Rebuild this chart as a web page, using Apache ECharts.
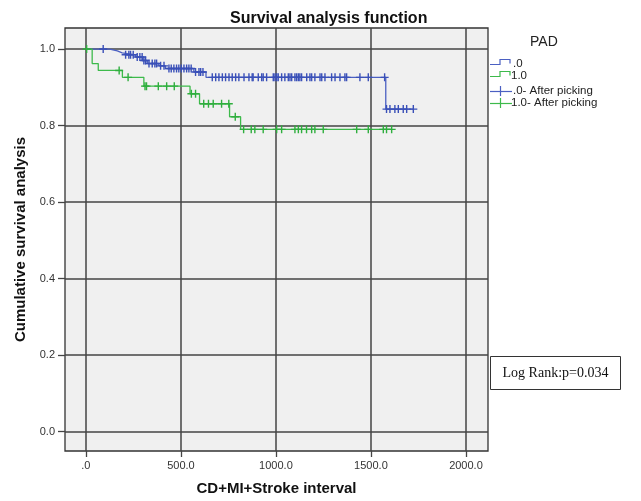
<!DOCTYPE html>
<html><head><meta charset="utf-8">
<script src="https://cdn.jsdelivr.net/npm/echarts@6/dist/echarts.min.js"></script>
<style>html,body{margin:0;padding:0;background:#fff}#c{width:641px;height:501px}</style>
</head><body><div id="c"></div>
<script>
// ---- data ----
const titleText = 'Survival analysis function';
const xName = 'CD+MI+Stroke interval';
const yName = 'Cumulative survival analysis';
const legendTitle = 'PAD';
const groupNames = ['.0', '1.0'];
const censorNames = ['.0- After picking', '1.0- After picking'];
const xTicks = [0, 500, 1000, 1500, 2000];
const yTicks = [0, 0.2, 0.4, 0.6, 0.8, 1.0];
const statText = 'Log Rank:p=0.034';

// group .0 : step times and survival levels
const blueStepT = [0, 126, 165, 191, 261, 297, 323, 384, 419, 568, 632, 1578, 1723];
const blueStepS = [1.0, 0.995, 0.990, 0.985, 0.979, 0.970, 0.962, 0.956, 0.949, 0.940, 0.926, 0.843, 0.843];
const blueCensorT = [91, 209, 226, 235, 249, 270, 284, 296, 305, 314, 332, 349, 363, 372, 393, 411,
  437, 449, 463, 477, 489, 502, 516, 530, 542, 554, 577, 595, 604, 616,
  665, 683, 700, 718, 735, 753, 770, 788, 805, 832, 858, 875, 880, 907, 925, 933, 951, 986, 995,
  1004, 1012, 1030, 1047, 1065, 1074, 1083, 1100, 1109, 1118, 1126, 1135, 1162, 1179, 1188, 1205,
  1232, 1241, 1258, 1293, 1311, 1337, 1363, 1372, 1442, 1486, 1572,
  1582, 1600, 1626, 1644, 1670, 1688, 1723];

// group 1.0
const greenStepT = [0, 33, 65, 192, 305, 548, 598, 756, 814, 1609];
const greenStepS = [1.0, 0.962, 0.944, 0.926, 0.903, 0.883, 0.857, 0.823, 0.790, 0.790];
const greenCensorT = [4, 175, 222, 311, 319, 381, 425, 465, 555, 577, 620, 645, 670, 714, 752, 786,
  830, 870, 889, 933, 1004, 1030, 1100, 1118, 1135, 1161, 1188, 1205, 1249, 1425, 1486, 1565, 1582, 1609];

// ---- build ----
const colors = ['#4B60C2', '#3DBA4B'];
const markColors = ['#3A50B8', '#2FAE3E'];
function stepPoints(T, S) { return T.map((t, i) => [t, S[i]]); }
function levelAt(T, S, t) {
  let s = S[0];
  for (let i = 0; i < T.length; i++) { if (T[i] <= t) s = S[i]; }
  return s;
}
function censorPoints(T, S, C) { return C.map(t => [t, levelAt(T, S, t)]); }
const crossPath = 'path://M0,3.3L3.3,3.3L3.3,0L4.7,0L4.7,3.3L8,3.3L8,4.7L4.7,4.7L4.7,8L3.3,8L3.3,4.7L0,4.7Z';
const FONT = 'Arial, "Liberation Sans", Helvetica, sans-serif';

const chart = echarts.init(document.getElementById('c'), null, { renderer: 'canvas' });
const grid = { left: 65, top: 28, right: 153, bottom: 49 };

const option = {
  backgroundColor: '#ffffff',
  animation: false,
  title: {
    text: titleText, left: 225, top: 6,
    textStyle: { fontFamily: FONT, fontSize: 16, fontWeight: 'bold', color: '#111' }
  },
  grid: Object.assign({ show: true, backgroundColor: '#F0F0F0', borderColor: '#333', borderWidth: 1.3 }, grid),
  xAxis: {
    type: 'value', min: -110, max: 2116,
    name: xName, nameLocation: 'middle', nameGap: 30,
    nameTextStyle: { fontFamily: FONT, fontSize: 15, fontWeight: 'bold', color: '#111' },
    axisLine: { show: false, onZero: false },
    axisTick: { show: true, customValues: xTicks, length: 6, lineStyle: { color: '#444', width: 1.3 } },
    axisLabel: { customValues: xTicks, margin: 9, fontFamily: FONT, fontSize: 11, color: '#333',
      formatter: v => v === 0 ? '.0' : v.toFixed(1) },
    splitLine: { show: true, lineStyle: { color: '#444', width: 1.5 } }
  },
  yAxis: {
    type: 'value', min: -0.051, max: 1.055,
    name: yName, nameLocation: 'middle', nameGap: 32,
    nameTextStyle: { fontFamily: FONT, fontSize: 15, fontWeight: 'bold', color: '#111' },
    axisLine: { show: false, onZero: false },
    axisTick: { show: true, customValues: yTicks, length: 7, lineStyle: { color: '#444', width: 1.3 } },
    axisLabel: { customValues: yTicks, margin: 10, fontFamily: FONT, fontSize: 11, color: '#333',
      formatter: v => v.toFixed(1) },
    splitLine: { show: true, lineStyle: { color: '#444', width: 1.5 } }
  },
  series: [
    { name: groupNames[0], type: 'line', step: 'end', showSymbol: false, z: 3,
      data: stepPoints(blueStepT, blueStepS), lineStyle: { color: colors[0], width: 1.3 } },
    { name: groupNames[1], type: 'line', step: 'end', showSymbol: false, z: 3,
      data: stepPoints(greenStepT, greenStepS), lineStyle: { color: colors[1], width: 1.3 } },
    { name: censorNames[0], type: 'scatter', symbol: crossPath, symbolSize: 8, z: 4,
      data: censorPoints(blueStepT, blueStepS, blueCensorT), itemStyle: { color: markColors[0], opacity: 1 } },
    { name: censorNames[1], type: 'scatter', symbol: crossPath, symbolSize: 8, z: 4,
      data: censorPoints(greenStepT, greenStepS, greenCensorT), itemStyle: { color: markColors[1], opacity: 1 } }
  ],
  graphic: [
    { type: 'text', left: 530, top: 35, style: { text: legendTitle, font: '14px ' + FONT, fill: '#222' } },
    // legend: step icons
    { type: 'polyline', shape: { points: [[490, 64.5], [500, 64.5], [500, 59.5], [510, 59.5], [510, 63.5]] },
      style: { stroke: colors[0], lineWidth: 1.2, fill: null } },
    { type: 'text', left: 513, top: 58, style: { text: groupNames[0], font: '11.5px ' + FONT, fill: '#222' } },
    { type: 'polyline', shape: { points: [[490, 76.5], [500, 76.5], [500, 71.5], [510, 71.5], [510, 75.5]] },
      style: { stroke: colors[1], lineWidth: 1.2, fill: null } },
    { type: 'text', left: 511, top: 70, style: { text: groupNames[1], font: '11.5px ' + FONT, fill: '#222' } },
    // legend: censor icons
    { type: 'polyline', shape: { points: [[490, 91.5], [512, 91.5]] }, style: { stroke: colors[0], lineWidth: 1.2 } },
    { type: 'polyline', shape: { points: [[500.5, 86], [500.5, 96]] }, style: { stroke: colors[0], lineWidth: 1.2 } },
    { type: 'text', left: 513, top: 85, style: { text: censorNames[0], font: '11.5px ' + FONT, fill: '#222' } },
    { type: 'polyline', shape: { points: [[490, 103.5], [512, 103.5]] }, style: { stroke: colors[1], lineWidth: 1.2 } },
    { type: 'polyline', shape: { points: [[500.5, 98], [500.5, 108]] }, style: { stroke: colors[1], lineWidth: 1.2 } },
    { type: 'text', left: 511, top: 97, style: { text: censorNames[1], font: '11.5px ' + FONT, fill: '#222' } },
    // log rank box
    { type: 'rect', shape: { x: 490.5, y: 356.5, width: 130, height: 33 },
      style: { fill: '#fff', stroke: '#333', lineWidth: 1 } },
    { type: 'text', x: 555.5, y: 373, style: { text: statText, font: '14px "Liberation Serif", "Times New Roman", serif',
      fill: '#111', align: 'center', verticalAlign: 'middle' } }
  ]
};
chart.setOption(option);
</script>
</body></html>
